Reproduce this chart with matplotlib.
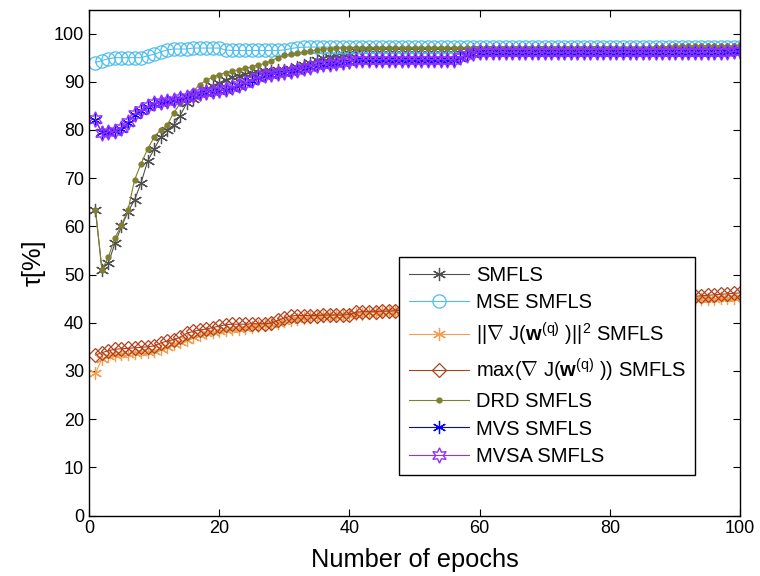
import numpy as np
import matplotlib
matplotlib.use("Agg")
import matplotlib.pyplot as plt

plt.rcParams['font.family'] = ['Liberation Sans', 'DejaVu Sans']
plt.rcParams['mathtext.fontset'] = 'custom'
plt.rcParams['mathtext.rm'] = 'Liberation Sans'
plt.rcParams['mathtext.it'] = 'Liberation Sans:italic'
plt.rcParams['mathtext.bf'] = 'Liberation Sans:bold'

epochs = np.arange(1, 101)

smfls = [63.5, 51.0, 52.5, 56.5, 60.0, 63.0, 65.5, 69.0, 73.5, 76.0,
         78.5, 80.0, 81.0, 83.0, 85.5, 86.5, 87.5, 88.5, 89.2, 89.8,
         90.4, 91.0, 91.3, 91.6, 91.8, 92.0, 92.2, 92.3, 92.4, 92.5,
         92.7, 93.0, 93.5, 94.0, 94.5, 95.0, 95.2, 95.5, 95.8, 96.0,
         96.3, 96.5, 96.6, 96.7, 96.7, 96.7, 96.7, 96.7, 96.7, 96.7,
         96.7, 96.7, 96.7, 96.7, 96.7, 96.7, 96.7, 96.7, 96.8, 96.8,
         96.8, 96.8, 96.8, 96.8, 96.8, 96.8, 96.8, 96.8, 96.8, 96.8,
         96.8, 96.8, 96.8, 96.8, 96.8, 96.8, 96.8, 96.8, 96.8, 96.8,
         96.8, 96.8, 96.8, 96.8, 96.8, 96.8, 96.8, 96.8, 96.8, 96.8,
         96.8, 96.8, 96.8, 96.8, 96.8, 96.8, 96.8, 96.8, 96.9, 96.9]

mse = [94.0, 94.4, 94.8, 95.0, 95.0, 95.0, 95.0, 95.0, 95.4, 95.7,
       96.2, 96.6, 96.8, 96.8, 96.8, 97.0, 97.0, 97.0, 97.0, 97.0,
       96.6, 96.5, 96.5, 96.5, 96.5, 96.5, 96.5, 96.5, 96.5, 96.6,
       96.9, 97.1, 97.2, 97.2, 97.2, 97.2, 97.2, 97.2, 97.2, 97.2,
       97.2, 97.2, 97.2, 97.2, 97.2, 97.2, 97.2, 97.2, 97.2, 97.2,
       97.2, 97.2, 97.2, 97.2, 97.2, 97.2, 97.2, 97.2, 97.2, 97.2,
       97.2, 97.2, 97.2, 97.2, 97.2, 97.2, 97.2, 97.2, 97.2, 97.2,
       97.2, 97.2, 97.2, 97.2, 97.2, 97.2, 97.2, 97.2, 97.2, 97.2,
       97.3, 97.3, 97.3, 97.3, 97.3, 97.3, 97.3, 97.3, 97.3, 97.3,
       97.3, 97.3, 97.3, 97.3, 97.3, 97.3, 97.3, 97.3, 97.3, 97.3]

grad_sq = [29.5, 32.5, 33.0, 33.3, 33.5, 33.6, 33.8, 34.0, 34.0, 34.2,
           34.5, 35.0, 35.5, 36.0, 36.5, 37.0, 37.5, 37.8, 38.0, 38.2,
           38.4, 38.6, 38.8, 39.0, 39.2, 39.4, 39.6, 39.8, 40.0, 40.3,
           40.6, 40.8, 41.0, 41.1, 41.2, 41.3, 41.4, 41.5, 41.6, 41.7,
           41.8, 41.9, 42.0, 42.1, 42.2, 42.3, 42.4, 42.5, 42.5, 42.6,
           42.7, 42.8, 42.8, 42.9, 43.0, 43.0, 43.1, 43.2, 43.2, 43.3,
           43.4, 43.4, 43.5, 43.5, 43.6, 43.7, 43.7, 43.8, 43.8, 43.9,
           43.9, 44.0, 44.0, 44.1, 44.1, 44.2, 44.2, 44.3, 44.3, 44.4,
           44.4, 44.5, 44.5, 44.5, 44.6, 44.6, 44.7, 44.7, 44.7, 44.8,
           44.8, 44.9, 44.9, 45.0, 45.0, 45.0, 45.1, 45.1, 45.2, 45.3]

grad_max = [33.3, 33.8, 34.2, 34.5, 34.6, 34.7, 34.8, 34.9, 35.0, 35.2,
            35.8, 36.2, 36.5, 37.0, 37.8, 38.2, 38.5, 38.7, 39.0, 39.3,
            39.6, 39.7, 39.7, 39.7, 39.8, 39.8, 39.8, 39.9, 40.5, 41.0,
            41.4, 41.5, 41.5, 41.5, 41.5, 41.6, 41.6, 41.6, 41.6, 41.7,
            42.2, 42.3, 42.3, 42.3, 42.4, 42.4, 42.5, 42.6, 42.7, 42.8,
            42.9, 43.0, 43.1, 43.2, 43.3, 43.4, 43.5, 43.6, 43.6, 43.7,
            43.8, 43.8, 43.9, 43.9, 44.0, 44.1, 44.1, 44.2, 44.2, 44.3,
            44.3, 44.4, 44.4, 44.5, 44.5, 44.6, 44.6, 44.7, 44.7, 44.8,
            44.8, 44.9, 44.9, 45.0, 45.0, 45.1, 45.1, 45.2, 45.3, 45.3,
            45.4, 45.5, 45.5, 45.6, 45.7, 45.8, 45.9, 46.0, 46.1, 46.2]

drd = [63.5, 51.0, 53.7, 57.6, 60.3, 63.4, 69.6, 73.0, 76.0, 78.5,
       80.0, 81.0, 83.5, 85.5, 86.8, 88.0, 89.4, 90.3, 91.0, 91.5,
       91.9, 92.2, 92.5, 92.8, 93.1, 93.5, 93.8, 94.4, 95.0, 95.5,
       95.8, 96.0, 96.2, 96.4, 96.6, 96.8, 96.9, 97.0, 97.0, 97.1,
       97.1, 97.1, 97.1, 97.1, 97.1, 97.1, 97.1, 97.1, 97.1, 97.1,
       97.1, 97.1, 97.1, 97.1, 97.1, 97.1, 97.1, 97.1, 97.1, 97.1,
       97.1, 97.1, 97.1, 97.1, 97.1, 97.1, 97.1, 97.1, 97.1, 97.1,
       97.1, 97.1, 97.1, 97.1, 97.1, 97.1, 97.1, 97.1, 97.1, 97.1,
       97.1, 97.1, 97.1, 97.1, 97.1, 97.1, 97.2, 97.3, 97.3, 97.4,
       97.4, 97.5, 97.5, 97.5, 97.5, 97.5, 97.5, 97.5, 97.5, 97.6]

mvs = [82.0, 79.5, 79.5, 79.7, 80.2, 81.5, 83.2, 84.0, 84.8, 85.3,
       85.7, 86.0, 86.2, 86.5, 86.8, 87.2, 87.5, 87.7, 87.9, 88.1,
       88.4, 88.8, 89.2, 89.7, 90.2, 90.8, 91.3, 91.5, 91.7, 91.9,
       92.1, 92.4, 92.7, 93.0, 93.3, 93.5, 93.6, 93.8, 94.0, 94.2,
       94.4, 94.5, 94.5, 94.5, 94.5, 94.5, 94.5, 94.5, 94.5, 94.5,
       94.5, 94.5, 94.5, 94.5, 94.5, 94.5, 95.0, 95.5, 95.8, 96.0,
       96.0, 96.0, 96.0, 96.0, 96.0, 96.0, 96.0, 96.0, 96.0, 96.0,
       96.0, 96.0, 96.0, 96.0, 96.0, 96.0, 96.0, 96.0, 96.0, 96.0,
       96.0, 96.0, 96.0, 96.0, 96.0, 96.0, 96.0, 96.0, 96.0, 96.0,
       96.0, 96.0, 96.0, 96.0, 96.0, 96.0, 96.0, 96.1, 96.2, 96.3]

mvsa = [82.2, 79.3, 79.6, 79.8, 80.4, 81.7, 83.3, 84.2, 84.9, 85.5,
        85.8, 86.1, 86.3, 86.6, 86.9, 87.3, 87.6, 87.8, 88.0, 88.2,
        88.5, 88.9, 89.3, 89.8, 90.3, 90.9, 91.4, 91.6, 91.8, 92.0,
        92.2, 92.5, 92.8, 93.1, 93.4, 93.6, 93.7, 93.9, 94.1, 94.3,
        94.5, 94.6, 94.6, 94.6, 94.6, 94.6, 94.6, 94.6, 94.6, 94.6,
        94.6, 94.6, 94.6, 94.6, 94.6, 94.6, 95.1, 95.6, 95.9, 96.1,
        96.1, 96.1, 96.1, 96.1, 96.1, 96.1, 96.1, 96.1, 96.1, 96.1,
        96.1, 96.1, 96.1, 96.1, 96.1, 96.1, 96.1, 96.1, 96.1, 96.1,
        96.1, 96.1, 96.1, 96.1, 96.1, 96.1, 96.1, 96.1, 96.1, 96.1,
        96.1, 96.1, 96.1, 96.1, 96.1, 96.1, 96.1, 96.2, 96.3, 96.4]

labels = [
    'SMFLS',
    'MSE SMFLS',
    r'||$\nabla$ J($\mathbf{w}^{\mathrm{(q)}}$ )||$^2$ SMFLS',
    r'max($\nabla$ J($\mathbf{w}^{\mathrm{(q)}}$ )) SMFLS',
    'DRD SMFLS',
    'MVS SMFLS',
    'MVSA SMFLS',
]

asterisk = (6, 2, 0)
hexagram = (6, 1, 0)

fig = plt.figure(figsize=(7.6, 5.76), dpi=100)
ax = fig.add_axes([0.117, 0.105, 0.857, 0.8785])

lw = 0.8
ax.plot(epochs, smfls, color='#505050', lw=lw, marker=asterisk, ms=9.5, mew=0.9, label=labels[0])
ax.plot(epochs, mse, color='#4dbeee', lw=lw, marker='o', ms=9.5, mew=0.9, mfc='none', label=labels[1])
ax.plot(epochs, grad_sq, color='#f0a050', lw=lw, marker=asterisk, ms=9.5, mew=0.9, label=labels[2])
ax.plot(epochs, grad_max, color='#b0401e', lw=lw, marker='D', ms=6.8, mew=0.9, mfc='none', label=labels[3])
ax.plot(epochs, drd, color='#808030', lw=lw, marker='.', ms=7, label=labels[4])
ax.plot(epochs, mvs, color='#0000ff', lw=lw, marker=asterisk, ms=9.5, mew=0.9, label=labels[5])
ax.plot(epochs, mvsa, color='#9030ff', lw=lw, marker=hexagram, ms=11, mew=1.0, mfc='none', label=labels[6])

ax.set_xlim(0, 100)
ax.set_ylim(0, 105)
ax.set_xticks(np.arange(0, 101, 20))
ax.set_yticks(np.arange(0, 101, 10))
ax.tick_params(direction='in', top=True, right=True, length=5, width=0.8, labelsize=13)
for s in ax.spines.values():
    s.set_linewidth(1.0)

ax.set_xlabel('Number of epochs', fontsize=18.3, labelpad=8)
ax.set_ylabel('τ[%]', fontsize=18.3, labelpad=6)

leg = ax.legend(loc='lower right', bbox_to_anchor=(0.931, 0.080), fontsize=14.5,
                frameon=True, fancybox=False, framealpha=1, edgecolor='black',
                handlelength=3.0, handletextpad=0.35, borderpad=0.45, labelspacing=0.42,
                borderaxespad=0)
leg.get_frame().set_linewidth(1.0)

fig.savefig('out.png', dpi=100)
